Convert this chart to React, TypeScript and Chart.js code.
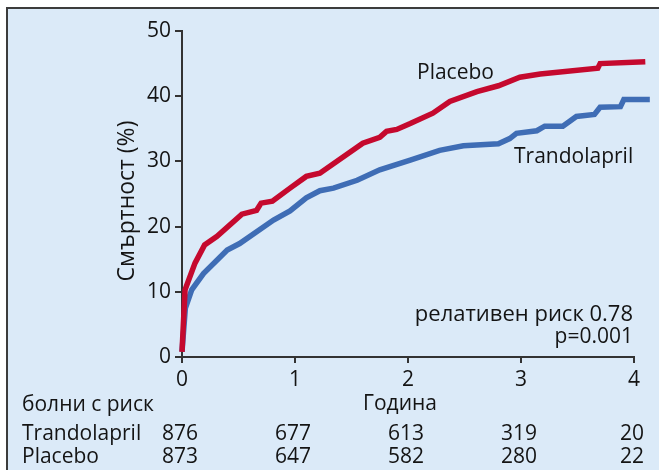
import React, { useEffect, useRef } from "react";
import { Chart, registerables } from "chart.js";

Chart.register(...registerables);

// Kaplan–Meier style cumulative mortality (%)
const placeboYears = [0, 0.027, 0.115, 0.2, 0.31, 0.53, 0.66, 0.7, 0.8, 0.956, 1.1, 1.22, 1.6, 1.75, 1.81, 1.9, 2.02, 2.22, 2.37, 2.61, 2.8, 2.99, 3.17, 3.68, 3.7, 4.1];
const placeboMortality = [0.8, 10.3, 14.4, 17.2, 18.5, 21.9, 22.5, 23.6, 23.9, 25.9, 27.7, 28.2, 32.8, 33.7, 34.6, 34.9, 35.8, 37.4, 39.2, 40.7, 41.6, 42.9, 43.4, 44.3, 45.0, 45.3];

const trandolaprilYears = [0, 0.03, 0.086, 0.19, 0.4, 0.51, 0.81, 0.956, 1.1, 1.22, 1.34, 1.55, 1.75, 2.02, 2.28, 2.49, 2.8, 2.9, 2.96, 3.14, 3.21, 3.37, 3.49, 3.65, 3.7, 3.88, 3.91, 4.14];
const trandolaprilMortality = [0.8, 7.5, 10.3, 12.8, 16.4, 17.4, 21.0, 22.4, 24.4, 25.5, 25.9, 27.1, 28.7, 30.2, 31.7, 32.4, 32.7, 33.5, 34.3, 34.7, 35.4, 35.4, 36.9, 37.2, 38.3, 38.4, 39.5, 39.5];

const tableYears = [0, 1, 2, 3, 4];
const atRiskTrandolapril = [876, 677, 613, 319, 20];
const atRiskPlacebo = [873, 647, 582, 280, 22];

const FONT = '"Open Sans", "DejaVu Sans", sans-serif';
const TEXT = "#141414";

export default function App() {
  const ref = useRef<HTMLCanvasElement>(null);

  useEffect(() => {
    document.body.style.margin = "0";
    const canvas = ref.current;
    if (!canvas) return;

    const decor = {
      id: "decor",
      beforeDraw(chart: any) {
        const ctx = chart.ctx;
        ctx.save();
        ctx.fillStyle = "#ffffff";
        ctx.fillRect(0, 0, chart.width, chart.height);
        ctx.fillStyle = "#dbeaf8";
        ctx.fillRect(8, 9, chart.width - 8, chart.height - 9);
        ctx.fillStyle = "#3c3c3c";
        ctx.fillRect(6, 7, chart.width - 6, 2);
        ctx.fillRect(6, 7, 2, chart.height - 7);
        ctx.restore();
      },
      afterDraw(chart: any) {
        const ctx = chart.ctx;
        const xs = chart.scales.x;
        ctx.save();
        ctx.fillStyle = TEXT;
        ctx.font = `21px ${FONT}`;
        ctx.textBaseline = "alphabetic";

        ctx.textAlign = "left";
        ctx.fillText("Placebo", 417, 79);
        ctx.fillText("Trandolapril", 514, 163);

        ctx.font = `22px ${FONT}`;
        ctx.textAlign = "right";
        ctx.fillText("релативен риск 0.78", 633, 321);
        ctx.font = `21px ${FONT}`;
        ctx.fillText("p=0.001", 633, 343);

        ctx.textAlign = "center";
        ctx.fillText("Година", 400, 410);

        ctx.textAlign = "left";
        ctx.fillText("болни с риск", 22, 411);
        ctx.fillText("Trandolapril", 22, 440);
        ctx.fillText("Placebo", 22, 463);

        ctx.textAlign = "center";
        tableYears.forEach((yr, i) => {
          const px = xs.getPixelForValue(yr) - 2;
          ctx.fillText(String(atRiskTrandolapril[i]), px, 440);
          ctx.fillText(String(atRiskPlacebo[i]), px, 463);
        });

        ctx.font = `23px ${FONT}`;
        ctx.translate(134, 201);
        ctx.rotate(-Math.PI / 2);
        ctx.textAlign = "center";
        ctx.fillText("Смъртност (%)", 0, 0);
        ctx.restore();
      },
    };

    const chart = new Chart(canvas, {
      type: "line",
      data: {
        datasets: [
          {
            label: "Placebo",
            data: placeboYears.map((x, i) => ({ x, y: placeboMortality[i] })),
            borderColor: "#c5092e",
            borderWidth: 5.5,
            pointRadius: 0,
            tension: 0,
            clip: false as any,
          },
          {
            label: "Trandolapril",
            data: trandolaprilYears.map((x, i) => ({ x, y: trandolaprilMortality[i] })),
            borderColor: "#3f6db5",
            borderWidth: 5.5,
            pointRadius: 0,
            tension: 0,
            clip: false as any,
          },
        ],
      },
      options: {
        animation: false,
        responsive: false,
        layout: { padding: { left: 0, right: 25, top: 31, bottom: 0 } },
        plugins: { legend: { display: false }, tooltip: { enabled: false } },
        scales: {
          x: {
            type: "linear",
            min: 0,
            max: 4,
            afterFit: (s: any) => {
              s.height = 113;
            },
            ticks: { stepSize: 1, color: TEXT, font: { size: 21, family: FONT }, padding: 4, maxRotation: 0 },
            grid: { drawOnChartArea: false, drawTicks: true, tickLength: 6, color: "#333", lineWidth: 2 },
            border: { display: true, color: "#333", width: 2 },
          },
          y: {
            min: 0,
            max: 50,
            afterFit: (s: any) => {
              s.width = 182;
            },
            ticks: { stepSize: 10, color: TEXT, font: { size: 21, family: FONT }, padding: 4 },
            grid: { drawOnChartArea: false, drawTicks: true, tickLength: 7, color: "#333", lineWidth: 2 },
            border: { display: true, color: "#333", width: 2 },
          },
        },
      },
      plugins: [decor],
    });

    return () => chart.destroy();
  }, []);

  return (
    <div style={{ width: 659, height: 470 }}>
      <canvas ref={ref} width={659} height={470} style={{ display: "block" }} />
    </div>
  );
}
